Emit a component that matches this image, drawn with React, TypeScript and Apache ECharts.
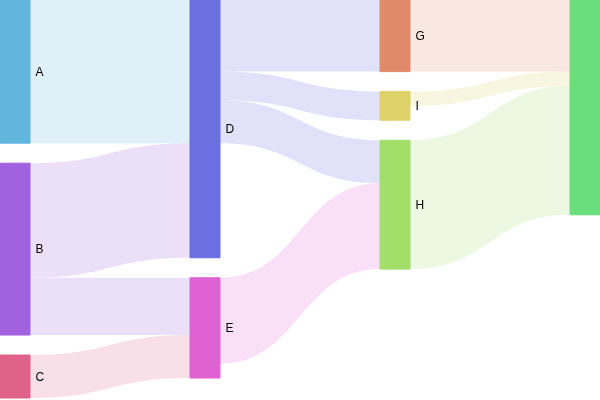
import React, { useEffect, useRef } from "react";
import * as echarts from "echarts";

const nodeNames = ["A", "B", "C", "D", "E", "G", "I", "H", "J"];
const nodeColors = ["#62b6de", "#a062df", "#df628a", "#6a70df", "#df62d3", "#df8b6a", "#ded16a", "#a1de6a", "#6ade7a"];
const linkSources = ["A", "B", "B", "C", "D", "D", "D", "E", "G", "I", "H"];
const linkTargets = ["D", "D", "E", "E", "G", "I", "H", "H", "J", "J", "J"];
const linkValues = [10, 8, 4, 3, 5, 2, 3, 6, 5, 1, 9];

export default function App() {
  const ref = useRef<HTMLDivElement>(null);
  useEffect(() => {
    if (!ref.current) return;
    const chart = echarts.init(ref.current, undefined, { renderer: "svg" });
    chart.setOption({
      animation: false,
      series: [
        {
          type: "sankey",
          left: 0,
          right: 0,
          top: 0,
          bottom: 2,
          nodeWidth: 30,
          nodeGap: 20,
          layoutIterations: 0,
          data: nodeNames.map((n, i) => ({
            name: n,
            itemStyle: { color: nodeColors[i], borderColor: nodeColors[i] },
            label: n === "J" ? { show: false } : undefined,
          })),
          links: linkSources.map((s, i) => ({ source: s, target: linkTargets[i], value: linkValues[i] })),
          lineStyle: { color: "source", opacity: 0.2, curveness: 0.5 },
          label: { color: "#000", fontSize: 12 },
          emphasis: { disabled: true },
        },
      ],
    });
    return () => chart.dispose();
  }, []);
  return <div ref={ref} style={{ position: "fixed", left: 0, top: 0, width: 600, height: 400 }} />;
}
